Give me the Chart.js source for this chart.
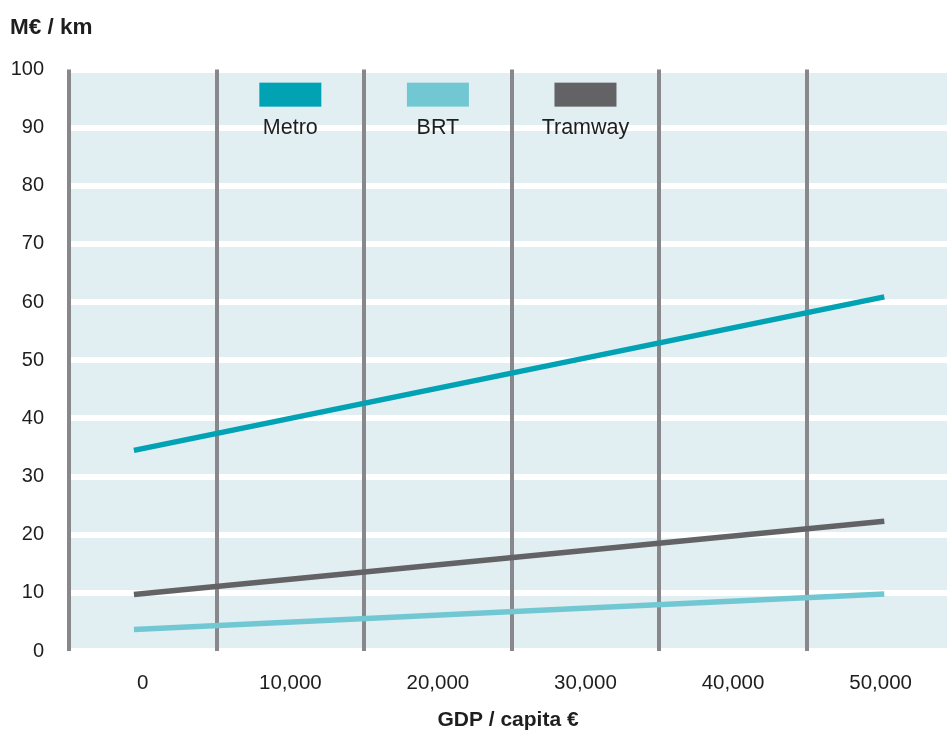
<!DOCTYPE html>
<html lang="en">
<head>
    <meta charset="UTF-8">
    <title>Cost per km vs GDP per capita</title>
    <script src="https://cdn.jsdelivr.net/npm/chart.js"></script>
    <style>
        body {
            margin: 0;
            background: #fff;
        }
        .chart-box {
            width: 947px;
            height: 731px;
        }
    </style>
</head>
<body>
    <div class="chart-box">
        <canvas id="cost-chart"></canvas>
    </div>

    <script>
        // values (line ends)
        const gdpEnds = [-600, 50250];
        const metroCost = [34.5, 60.9];
        const brtCost = [3.7, 9.8];
        const tramwayCost = [9.7, 22.3];
        const seriesNames = ['Metro', 'BRT', 'Tramway'];

        // labelled GDP ticks; the grey lines sit half way between them
        const gdpLabels = [0, 10000, 20000, 30000, 40000, 50000];

        const colors = ['#00a2b3', '#72c8d2', '#636366'];
        const textColor = '#1e1e1e';

        Chart.defaults.font.family = '"Liberation Sans", Arial, sans-serif';
        Chart.defaults.color = textColor;

        function toPoints(values) {
            return values.map((v, i) => ({ x: gdpEnds[i], y: v }));
        }

        // light blue plot background
        const plotBackground = {
            id: 'plotBackground',
            beforeDraw(chart) {
                const { ctx, chartArea: a } = chart;
                ctx.save();
                ctx.fillStyle = '#e1eff3';
                ctx.fillRect(a.left, a.top, a.right - a.left, a.bottom - a.top);
                ctx.restore();
            }
        };

        // legend: colour block with the name under it, placed at 10k / 20k / 30k
        const blockLegend = {
            id: 'blockLegend',
            afterDraw(chart) {
                const { ctx, scales } = chart;
                const textY = scales.y.getPixelForValue(90);
                ctx.save();
                ctx.font = '21.5px "Liberation Sans", Arial, sans-serif';
                ctx.textAlign = 'center';
                ctx.textBaseline = 'middle';
                chart.data.datasets.forEach((ds, i) => {
                    const cx = scales.x.getPixelForValue(gdpLabels[i + 1]);
                    ctx.fillStyle = ds.borderColor;
                    ctx.fillRect(cx - 31, textY - 45, 62, 24);
                    ctx.fillStyle = textColor;
                    ctx.fillText(ds.label, cx, textY);
                });
                ctx.restore();
            }
        };

        new Chart(document.getElementById('cost-chart'), {
            type: 'line',
            data: {
                datasets: [metroCost, brtCost, tramwayCost].map((vals, i) => ({
                    label: seriesNames[i],
                    data: toPoints(vals),
                    borderColor: colors[i],
                    borderWidth: 5.5,
                    borderCapStyle: 'butt',
                    pointRadius: 0,
                    tension: 0
                }))
            },
            options: {
                responsive: true,
                maintainAspectRatio: false,
                animation: false,
                layout: { padding: { left: 10, right: 0, top: 0, bottom: 0 } },
                plugins: {
                    legend: { display: false },
                    tooltip: { enabled: false },
                    title: {
                        display: true,
                        text: 'M€ / km',
                        align: 'start',
                        color: textColor,
                        font: { size: 22.5, weight: 'bold', lineHeight: 1 },
                        padding: { top: 17, bottom: 30 }
                    }
                },
                scales: {
                    x: {
                        type: 'linear',
                        min: -5000,
                        max: 54500,
                        border: { display: false },
                        afterBuildTicks(scale) {
                            // labelled ticks plus a grey divider before each one
                            const t = [];
                            gdpLabels.forEach(v => {
                                t.push({ value: v - 5000 });
                                t.push({ value: v });
                            });
                            scale.ticks = t;
                        },
                        grid: {
                            z: -1,
                            drawTicks: false,
                            lineWidth: 4,
                            color: c => (c.tick && !gdpLabels.includes(c.tick.value)) ? '#88888c' : 'rgba(0,0,0,0)'
                        },
                        ticks: {
                            autoSkip: false,
                            maxRotation: 0,
                            padding: 20,
                            font: { size: 20.5 },
                            callback: v => gdpLabels.includes(v) ? v.toLocaleString('en-US') : ''
                        },
                        title: {
                            display: true,
                            text: 'GDP / capita €',
                            color: textColor,
                            font: { size: 21, weight: 'bold', lineHeight: 1 },
                            padding: { top: 0, bottom: 0 }
                        },
                        afterFit(scale) {
                            scale.height = 80;
                            scale.paddingRight = 0;
                        }
                    },
                    y: {
                        min: 0,
                        max: 100,
                        border: { display: false },
                        grid: {
                            z: -2,
                            drawTicks: false,
                            lineWidth: 6,
                            color: '#ffffff'
                        },
                        ticks: {
                            stepSize: 10,
                            padding: 25,
                            font: { size: 20 }
                        },
                        afterFit(scale) { scale.width = 59; }
                    }
                }
            },
            plugins: [plotBackground, blockLegend]
        });
    </script>
</body>
</html>
